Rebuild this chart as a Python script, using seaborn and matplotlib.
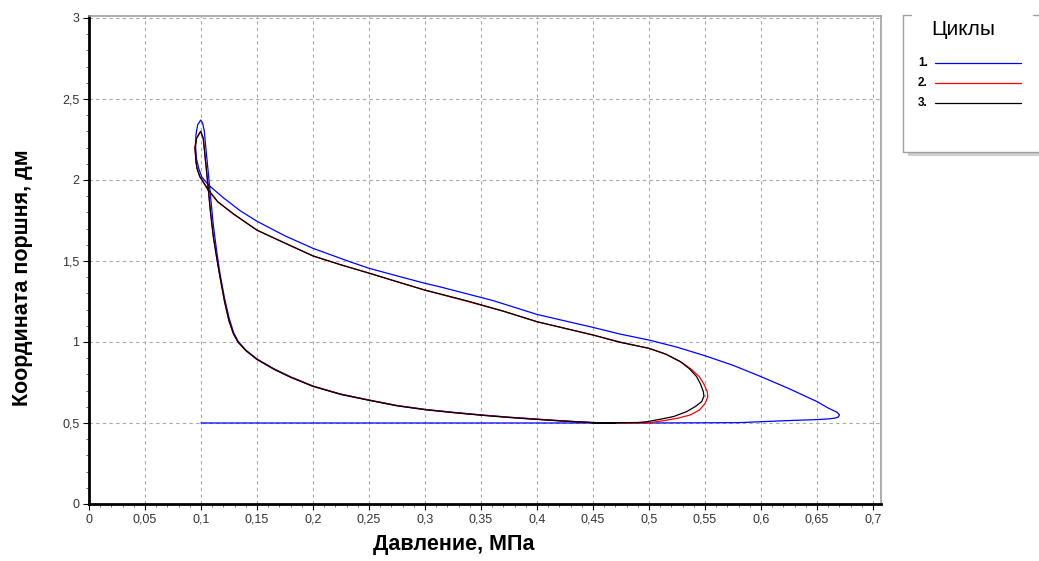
import numpy as np
import pandas as pd
import seaborn as sns
import matplotlib
matplotlib.use("Agg")
import matplotlib.pyplot as plt
from matplotlib.ticker import MultipleLocator, FuncFormatter
from matplotlib.lines import Line2D
from matplotlib.patches import Rectangle

# ---- data: pressure (MPa) and piston coordinate (dm) along each cycle ----
cycle1_p = [0.100, 0.200, 0.300, 0.400, 0.500, 0.580, 0.600, 0.629, 0.650, 0.660, 0.666,
            0.669, 0.670, 0.668, 0.660, 0.650, 0.625, 0.600, 0.575, 0.550, 0.525, 0.500,
            0.474, 0.450, 0.400, 0.361, 0.313, 0.300, 0.275, 0.250, 0.233, 0.200, 0.175,
            0.150, 0.135, 0.120, 0.1065, 0.1006, 0.098, 0.096, 0.0952, 0.0955, 0.097, 0.0997,
            0.1015, 0.103, 0.104, 0.106, 0.1085, 0.111, 0.114, 0.117, 0.121, 0.125, 0.129,
            0.133, 0.140, 0.150, 0.165, 0.180, 0.200, 0.225, 0.250, 0.275, 0.300, 0.325,
            0.350, 0.375, 0.400, 0.425, 0.450, 0.470]
cycle1_y = [0.500, 0.500, 0.500, 0.500, 0.500, 0.502, 0.508, 0.516, 0.521, 0.525, 0.530,
            0.537, 0.550, 0.566, 0.592, 0.632, 0.712, 0.786, 0.856, 0.915, 0.968, 1.012,
            1.049, 1.090, 1.170, 1.255, 1.341, 1.362, 1.408, 1.455, 1.495, 1.578, 1.655,
            1.745, 1.810, 1.890, 1.970, 2.020, 2.070, 2.130, 2.200, 2.280, 2.340, 2.370,
            2.350, 2.300, 2.220, 2.080, 1.900, 1.720, 1.560, 1.420, 1.270, 1.150, 1.060,
            1.005, 0.950, 0.895, 0.835, 0.785, 0.728, 0.678, 0.642, 0.608, 0.584, 0.566,
            0.550, 0.536, 0.524, 0.512, 0.503, 0.500]

cycle2_p = [0.470, 0.498, 0.5128, 0.526, 0.5366, 0.545, 0.550, 0.5525, 0.552, 0.549, 0.545,
            0.538, 0.530, 0.515, 0.500, 0.474, 0.450, 0.400, 0.370, 0.337, 0.300, 0.275,
            0.250, 0.225, 0.200, 0.175, 0.150, 0.129, 0.115, 0.1065, 0.099, 0.0965, 0.0955,
            0.0946, 0.096, 0.0997, 0.102, 0.104, 0.106, 0.1085, 0.111, 0.114, 0.117, 0.121,
            0.125, 0.129, 0.133, 0.140, 0.150, 0.165, 0.180, 0.200, 0.225, 0.250, 0.275,
            0.300, 0.325, 0.350, 0.375, 0.400, 0.425, 0.450]
cycle2_y = [0.500, 0.500, 0.514, 0.530, 0.549, 0.580, 0.620, 0.660, 0.693, 0.740, 0.785,
            0.830, 0.870, 0.925, 0.960, 1.000, 1.043, 1.125, 1.190, 1.252, 1.320, 1.372,
            1.425, 1.476, 1.531, 1.610, 1.690, 1.790, 1.865, 1.935, 2.020, 2.070, 2.113,
            2.200, 2.257, 2.300, 2.257, 2.120, 1.980, 1.800, 1.650, 1.520, 1.400, 1.250,
            1.130, 1.050, 1.000, 0.948, 0.893, 0.833, 0.783, 0.727, 0.677, 0.641, 0.607,
            0.583, 0.565, 0.549, 0.535, 0.523, 0.512, 0.502]

cycle3_p = [0.450, 0.490, 0.498, 0.510, 0.522, 0.5335, 0.541, 0.547, 0.549, 0.5485, 0.546,
            0.5425, 0.536, 0.528, 0.515, 0.500, 0.474, 0.450, 0.400, 0.370, 0.337, 0.300,
            0.275, 0.250, 0.225, 0.200, 0.175, 0.150, 0.129, 0.115, 0.1065, 0.099, 0.0965,
            0.0955, 0.0946, 0.096, 0.0997, 0.102, 0.104, 0.106, 0.1085, 0.111, 0.114, 0.117,
            0.121, 0.125, 0.129, 0.133, 0.140, 0.150, 0.165, 0.180, 0.200, 0.225, 0.250,
            0.275, 0.300, 0.325, 0.350, 0.375, 0.400, 0.425, 0.450, 0.470]
cycle3_y = [0.500, 0.503, 0.508, 0.523, 0.540, 0.570, 0.600, 0.632, 0.665, 0.693, 0.740,
            0.786, 0.835, 0.879, 0.925, 0.961, 0.998, 1.043, 1.125, 1.190, 1.255, 1.320,
            1.372, 1.425, 1.476, 1.531, 1.610, 1.690, 1.790, 1.865, 1.940, 2.020, 2.070,
            2.113, 2.200, 2.257, 2.300, 2.257, 2.120, 1.980, 1.800, 1.650, 1.520, 1.400,
            1.250, 1.130, 1.050, 1.000, 0.947, 0.892, 0.832, 0.782, 0.726, 0.676, 0.640,
            0.606, 0.582, 0.564, 0.548, 0.534, 0.522, 0.511, 0.502, 0.500]

cycle_names = ["1.", "2.", "3."]
cycle_colors = ["#0000ff", "#ff0000", "#000000"]

x_label = "Давление, МПа"
y_label = "Координата поршня, дм"
legend_title = "Циклы"

# ---- long-form table, one path per cycle ----
frames = []
for name, ps, ys in zip(cycle_names, [cycle1_p, cycle2_p, cycle3_p],
                        [cycle1_y, cycle2_y, cycle3_y]):
    frames.append(pd.DataFrame({"p": ps, "y": ys, "cycle": name}))
df = pd.concat(frames, ignore_index=True)

sns.set_style("white")
plt.rcParams["font.family"] = ["Liberation Sans", "DejaVu Sans"]

W, H = 1039, 561
fig = plt.figure(figsize=(W / 100, H / 100), dpi=100)
ax = fig.add_axes([89 / W, (H - 504) / H, (881 - 89) / W, (504 - 16) / H])

for name, color in zip(cycle_names, cycle_colors):
    sub = df[df["cycle"] == name]
    sns.lineplot(data=sub, x="p", y="y", sort=False, estimator=None,
                 color=color, linewidth=0.9, ax=ax)

ax.set_xlim(0, 0.7071)
ax.set_ylim(0, 3.012)

comma = FuncFormatter(lambda v, pos: ("%g" % round(v, 3)).replace(".", ","))
ax.xaxis.set_major_locator(MultipleLocator(0.05))
ax.xaxis.set_minor_locator(MultipleLocator(0.01))
ax.yaxis.set_major_locator(MultipleLocator(0.5))
ax.yaxis.set_minor_locator(MultipleLocator(0.1))
ax.xaxis.set_major_formatter(comma)
ax.yaxis.set_major_formatter(comma)

ax.grid(True, which="major", color="#a8a8a8", linestyle=(0, (3, 3)), linewidth=0.8)
ax.tick_params(axis="both", which="major", direction="out", length=4, width=0.8,
               color="#000000", labelsize=9, labelcolor="#333333", pad=3)
ax.tick_params(axis="both", which="minor", direction="out", length=2, width=0.6,
               color="#555555")
ax.tick_params(axis="x", which="both", bottom=True)
ax.tick_params(axis="y", which="both", left=True)

for side in ["left", "bottom"]:
    ax.spines[side].set_color("#000000")
    ax.spines[side].set_linewidth(2.0)
for side in ["top", "right"]:
    ax.spines[side].set_color("#a0a0a0")
    ax.spines[side].set_linewidth(1.2)

ax.set_xlabel(x_label, fontsize=15.5, fontweight="bold", color="#000000")
ax.set_ylabel(y_label, fontsize=15.5, fontweight="bold", color="#000000")
ax.xaxis.set_label_coords(0.46, -0.062)
ax.yaxis.set_label_coords(-0.071, 0.463)

# ---- legend drawn as a group box at the right ----
def fx(px):
    return px / W

def fy(py):
    return 1 - py / H

frame_col = "#a0a0a0"
fig.patches.append(Rectangle((fx(908), fy(156)), fx(W - 908), 4 / H,
                             transform=fig.transFigure, color="#cfcfcf", lw=0))
for xs, ys in [([903, 903], [15, 152]), ([903, 1045], [152, 152]),
               ([903, 911], [15, 15]), ([1033, 1045], [15, 15])]:
    fig.lines.append(Line2D([fx(v) for v in xs], [fy(v) for v in ys],
                            transform=fig.transFigure, color=frame_col, lw=1.0))
fig.text(fx(931), fy(35), legend_title, fontsize=15, color="#000000",
         ha="left", va="baseline")
for i, (name, color) in enumerate(zip(cycle_names, cycle_colors)):
    yy = 62.5 + 20 * i
    fig.text(fx(918), fy(yy + 4), name, fontsize=8.5, fontweight="bold",
             color="#000000", ha="left", va="baseline")
    fig.lines.append(Line2D([fx(935), fx(1021)], [fy(yy), fy(yy)],
                            transform=fig.transFigure, color=color, lw=0.9))

fig.savefig("out.png", dpi=100)
